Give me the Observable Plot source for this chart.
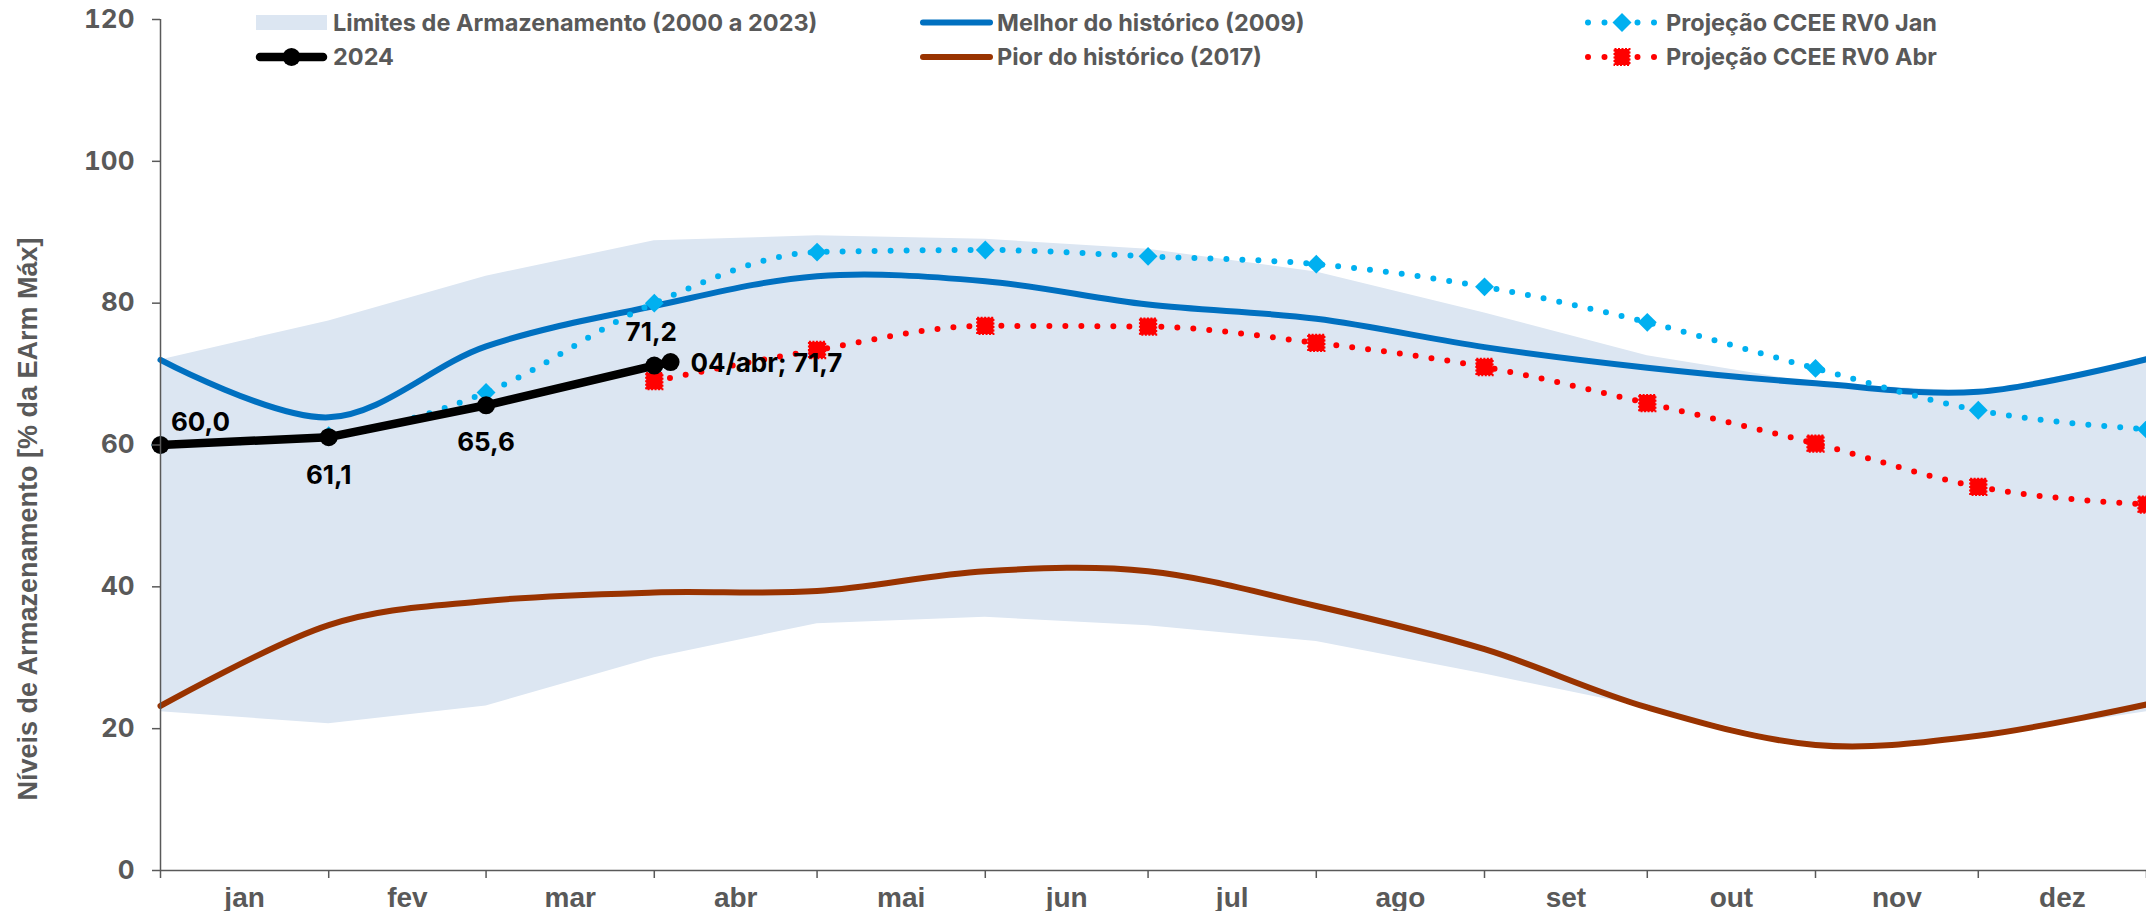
<!DOCTYPE html>
<html>
<head>
<meta charset="utf-8">
<script src="https://cdn.jsdelivr.net/npm/d3@7"></script>
<script src="https://cdn.jsdelivr.net/npm/@observablehq/plot@0.6"></script>
<style>
  html, body { margin: 0; padding: 0; background: #fff; }
  #wrap { position: relative; width: 2146px; height: 911px; }
  #legend { position: absolute; left: 0; top: 0; pointer-events: none; }
</style>
</head>
<body>
<div id="wrap"></div>
<script>
// ---- data ----
const meses = ["jan","fev","mar","abr","mai","jun","jul","ago","set","out","nov","dez"];
const datas = ["2024-01-01","2024-02-01","2024-03-01","2024-04-01","2024-05-01","2024-06-01","2024-07-01",
               "2024-08-01","2024-09-01","2024-10-01","2024-11-01","2024-12-01","2025-01-01"];
const limiteInferior = [22.4, 20.7, 23.2, 30.0, 34.8, 35.7, 34.5, 32.3, 27.7, 23.0, 17.4, 18.8, 22.4];
const limiteSuperior = [72.0, 77.5, 83.8, 88.8, 89.5, 89.0, 87.6, 84.4, 78.6, 72.6, 68.7, 67.5, 72.0];
const melhor2009 = [72.0, 63.9, 73.9, 79.6, 83.8, 83.1, 79.8, 77.8, 73.8, 70.9, 68.7, 67.5, 72.1];
const pior2017 = [23.2, 34.6, 38.0, 39.2, 39.4, 42.2, 42.2, 37.3, 31.2, 23.0, 17.7, 19.0, 23.4];
const projecaoJan = [60.0, 61.3, 67.4, 80.0, 87.2, 87.5, 86.6, 85.5, 82.3, 77.3, 70.8, 64.9, 62.2];
const datasAbr = ["2024-04-01","2024-05-01","2024-06-01","2024-07-01","2024-08-01","2024-09-01",
                  "2024-10-01","2024-11-01","2024-12-01","2025-01-01"];
const projecaoAbr = [69.0, 73.4, 76.8, 76.7, 74.4, 71.0, 65.9, 60.2, 54.1, 51.6];
const datas2024 = ["2024-01-01","2024-02-01","2024-03-01","2024-04-01","2024-04-04"];
const valores2024 = [60.0, 61.1, 65.6, 71.2, 71.7];
const rotulos2024 = ["60,0","61,1","65,6","71,2","04/abr; 71,7"];
const yTicks = [0, 20, 40, 60, 80, 100, 120];
const tituloY = "Níveis de Armazenamento [% da EArm Máx]";
const legendas = ["Limites de Armazenamento (2000 a 2023)", "2024", "Melhor do histórico (2009)",
                  "Pior do histórico (2017)", "Projeção CCEE RV0 Jan", "Projeção CCEE RV0 Abr"];

// ---- tables ----
const D = s => new Date(s + "T00:00:00Z");
const mensal = datas.map((d, i) => ({
  x: D(d), lo: limiteInferior[i], hi: limiteSuperior[i], melhor: melhor2009[i],
  pior: pior2017[i], jan: projecaoJan[i]
}));
const abr = datasAbr.map((d, i) => ({x: D(d), y: projecaoAbr[i]}));
const serie = datas2024.map((d, i) => ({x: D(d), y: valores2024[i], t: rotulos2024[i]}));
const inicios = datas.map(D);
const meios = meses.map((m, i) => ({m, x: new Date((inicios[i].getTime() + inicios[i + 1].getTime()) / 2)}));

// ---- styles ----
const GRAY = "#595959";
const NUM_FONT = "Inter, Roboto, sans-serif";
const ARIAL = "'Liberation Sans', Arial, sans-serif";
const labelStyle = [
  {dx: 40, dy: -22, anchor: "middle"},
  {dx: 0, dy: 38, anchor: "middle"},
  {dx: 0, dy: 37, anchor: "middle"},
  {dx: -3, dy: -33, anchor: "middle"},
  {dx: 20, dy: 2, anchor: "start"}
];

const dotted = {strokeWidth: 6, strokeDasharray: "0 16", strokeLinecap: "round", curve: "monotone-x"};

const chart = Plot.plot({
  width: 2146, height: 911,
  marginLeft: 160, marginRight: 0, marginTop: 19, marginBottom: 41,
  x: {type: "utc", domain: [inicios[0], inicios[inicios.length - 1]]},
  y: {domain: [0, 120]},
  style: {fontFamily: NUM_FONT, background: "white", overflow: "visible"},
  marks: [
    Plot.areaY(mensal, {x: "x", y1: "lo", y2: "hi", fill: "#DCE6F2", curve: "linear"}),
    Plot.line(mensal, {x: "x", y: "pior", stroke: "#993300", strokeWidth: 6, curve: "cardinal"}),
    Plot.line(mensal, {x: "x", y: "melhor", stroke: "#0070C0", strokeWidth: 6, curve: "cardinal"}),
    Plot.line(mensal, {x: "x", y: "jan", stroke: "#00B0F0", ...dotted}),
    Plot.dot(mensal, {x: "x", y: "jan", symbol: "diamond2", r: 8.5, fill: "#00B0F0"}),
    Plot.line(abr, {x: "x", y: "y", stroke: "#FF0000", ...dotted}),
    Plot.dot(abr, {x: "x", y: "y", symbol: "square", r: 9.2, fill: "#FF0000", stroke: "#FF0000",
                   strokeWidth: 2, strokeDasharray: "2 1.5"}),
    Plot.line(serie, {x: "x", y: "y", stroke: "#000", strokeWidth: 8.5, strokeLinecap: "round"}),
    Plot.dot(serie, {x: "x", y: "y", r: 9, fill: "#000"}),
    ...labelStyle.map((s, i) => Plot.text([serie[i]], {
      x: "x", y: "y", text: "t", dx: s.dx, dy: s.dy, textAnchor: s.anchor,
      fontSize: 26, fontWeight: "bold", fill: "#000", fontFamily: NUM_FONT
    })),
    // axes
    Plot.ruleY([0], {stroke: GRAY, strokeWidth: 1.5}),
    Plot.ruleX([inicios[0]], {y1: 0, y2: 120, stroke: GRAY, strokeWidth: 1.5}),
    Plot.axisY({ticks: yTicks, tickSize: 8, tickPadding: 18, label: null, color: GRAY,
                strokeWidth: 1.5, fontSize: 26, fontWeight: "bold", fontFamily: NUM_FONT}),
    Plot.axisX({ticks: inicios, tickSize: 8, tickFormat: () => "", label: null, color: GRAY, strokeWidth: 1.5}),
    Plot.text(meios, {x: "x", text: "m", frameAnchor: "bottom", dy: 36, fontSize: 28,
                      fontWeight: "bold", fill: GRAY, fontFamily: ARIAL})
  ]
});

const wrap = document.getElementById("wrap");
wrap.appendChild(chart);

// ---- overlay: legend and y-axis title ----
const lg = d3.select(wrap).append("svg").attr("id", "legend").attr("width", 2146).attr("height", 911);
lg.append("text")
  .attr("transform", "translate(28,519) rotate(-90)")
  .attr("text-anchor", "middle").attr("dy", "0.35em")
  .attr("font-family", ARIAL).attr("font-weight", "bold").attr("font-size", 27)
  .attr("fill", GRAY).text(tituloY);

const legendItems = [
  {col: 0, row: 0, kind: "band"},
  {col: 0, row: 1, kind: "black"},
  {col: 1, row: 0, kind: "line", color: "#0070C0"},
  {col: 1, row: 1, kind: "line", color: "#993300"},
  {col: 2, row: 0, kind: "dotsDiamond", color: "#00B0F0"},
  {col: 2, row: 1, kind: "dotsSquare", color: "#FF0000"}
];
const colX = [[256, 327, 333], [920, 993, 997], [1588, 1656, 1666]];
const rowY = [22.5, 57];
legendItems.forEach((it, i) => {
  const [x0, x1, tx] = colX[it.col];
  const y = rowY[it.row];
  const g = lg.append("g");
  const cx = (x0 + x1) / 2;
  if (it.kind === "band") {
    g.append("rect").attr("x", x0).attr("y", y - 7.5).attr("width", x1 - x0).attr("height", 15).attr("fill", "#DCE6F2");
  } else if (it.kind === "black") {
    g.append("line").attr("x1", x0 + 4).attr("x2", x1 - 4).attr("y1", y).attr("y2", y)
      .attr("stroke", "#000").attr("stroke-width", 8.5).attr("stroke-linecap", "round");
    g.append("circle").attr("cx", cx).attr("cy", y).attr("r", 9).attr("fill", "#000");
  } else if (it.kind === "line") {
    g.append("line").attr("x1", x0 + 3).attr("x2", x1 - 3).attr("y1", y).attr("y2", y)
      .attr("stroke", it.color).attr("stroke-width", 6).attr("stroke-linecap", "round");
  } else {
    g.append("line").attr("x1", x0).attr("x2", x1 + 1).attr("y1", y).attr("y2", y)
      .attr("stroke", it.color).attr("stroke-width", 6).attr("stroke-linecap", "round")
      .attr("stroke-dasharray", "0 16.5");
    if (it.kind === "dotsDiamond") {
      const s = 9.5;
      g.append("path").attr("d", `M${cx},${y - s}L${cx + s},${y}L${cx},${y + s}L${cx - s},${y}Z`).attr("fill", it.color);
    } else {
      g.append("rect").attr("x", cx - 7.5).attr("y", y - 8).attr("width", 15).attr("height", 16)
        .attr("fill", it.color).attr("stroke", it.color).attr("stroke-width", 2).attr("stroke-dasharray", "2 1.5");
    }
  }
  g.append("text").attr("x", tx).attr("y", y).attr("dy", "0.35em")
    .attr("font-family", NUM_FONT).attr("font-weight", "bold").attr("font-size", 23.5)
    .attr("fill", GRAY).text(legendas[i]);
});
</script>
</body>
</html>
